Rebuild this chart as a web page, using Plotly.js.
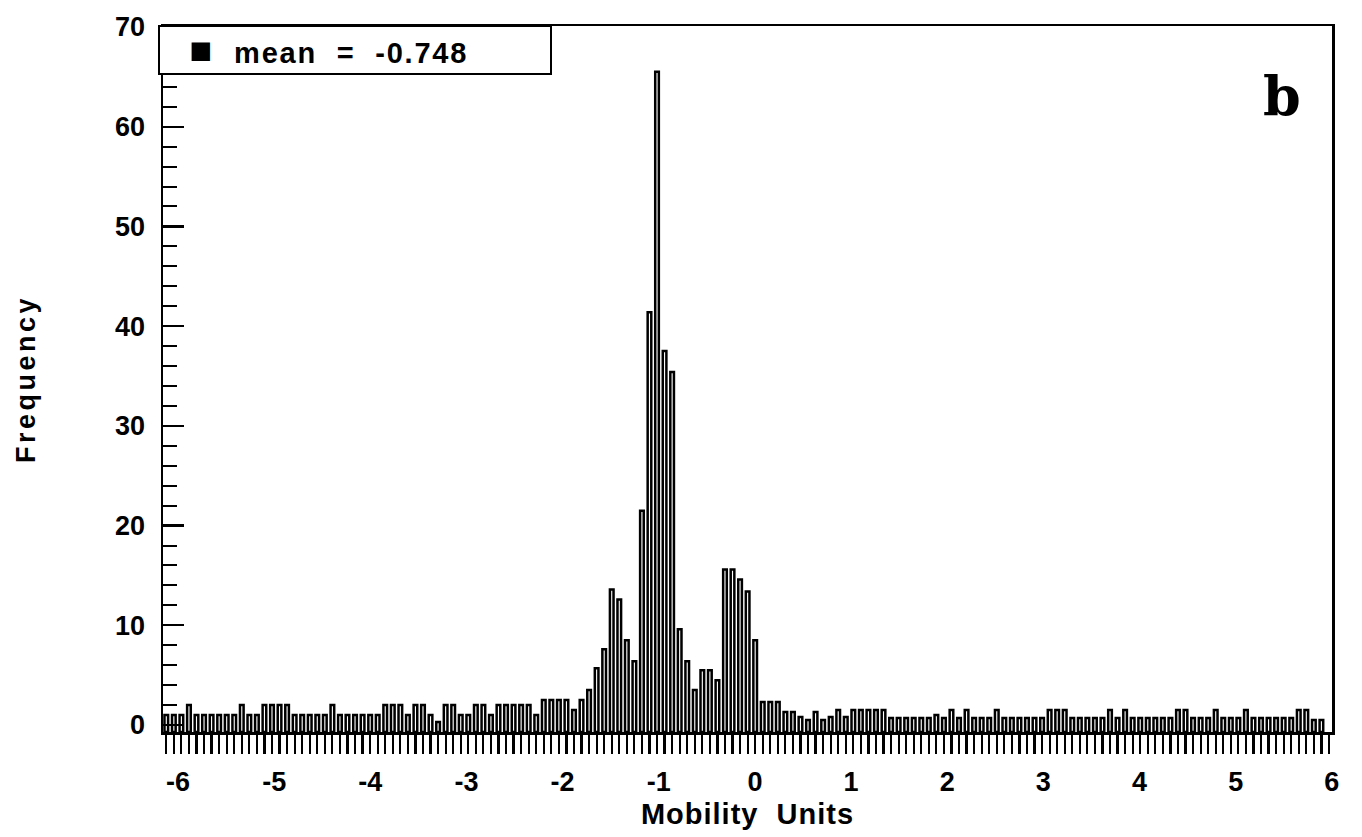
<!DOCTYPE html>
<html><head><meta charset="utf-8">
<script src="https://cdn.plot.ly/plotly-3.0.1.min.js"></script>
<style>
html,body{margin:0;padding:0;background:#fff;}
#chart{width:1362px;height:837px;}
#chart .ytitle{letter-spacing:3.5px;}
#chart .xtitle{letter-spacing:1px;}
#chart .annotation-text{letter-spacing:1.8px;}
</style>
</head><body><div id="chart"></div>
<script>
// Histogram bins (mobility units)
const binStart = -6.161;
const binWidth = 0.07852;
// Frequency per bin (left to right)
const frequency = [
  1, 1, 1, 2, 1, 1, 1, 1, 1, 1,
  2, 1, 1, 2, 2, 2, 2, 1, 1, 1,
  1, 1, 2, 1, 1, 1, 1, 1, 1, 2,
  2, 2, 1, 2, 2, 1, 0.3, 2, 2, 1,
  1, 2, 2, 1, 2, 2, 2, 2, 2, 1,
  2.5, 2.5, 2.5, 2.5, 1.5, 2.5, 3.5, 5.7, 7.6, 13.6,
  12.6, 8.5, 6.4, 21.5, 41.4, 65.5, 37.5, 35.4, 9.6, 6.4,
  3.5, 5.5, 5.5, 4.5, 15.6, 15.6, 14.6, 13.4, 8.5, 2.3,
  2.3, 2.3, 1.3, 1.3, 0.8, 0.5, 1.3, 0.5, 0.8, 1.5,
  0.8, 1.5, 1.5, 1.5, 1.5, 1.5, 0.7, 0.7, 0.7, 0.7,
  0.7, 0.7, 1, 0.7, 1.5, 0.7, 1.5, 0.7, 0.7, 0.7,
  1.5, 0.7, 0.7, 0.7, 0.7, 0.7, 0.7, 1.5, 1.5, 1.5,
  0.7, 0.7, 0.7, 0.7, 0.7, 1.5, 0.7, 1.5, 0.7, 0.7,
  0.7, 0.7, 0.7, 0.7, 1.5, 1.5, 0.7, 0.7, 0.7, 1.5,
  0.7, 0.7, 0.7, 1.5, 0.7, 0.7, 0.7, 0.7, 0.7, 0.7,
  1.5, 1.5, 0.5, 0.5
];
const xTickValues = [-6, -5, -4, -3, -2, -1, 0, 1, 2, 3, 4, 5, 6];
const xTickLabels = ['-6', '-5', '-4', '-3', '-2', '-1', '0', '1', '2', '3', '4', '5', '6'];
const yTickValues = [0, 10, 20, 30, 40, 50, 60, 70];
const xTitle = 'Mobility\u00a0\u00a0Units';
const yTitle = 'Frequency';
const meanLabel = 'mean\u00a0\u00a0=\u00a0\u00a0-0.748';
const panelLabel = 'b';

const Y_FLOOR = -0.7;
const binCenters = frequency.map((_, i) => binStart + (i + 0.5) * binWidth);

const boldFont = {family: '"Liberation Sans", Arial, sans-serif', size: 27, color: '#000', weight: 'bold'};

const traces = [
  {
    type: 'bar',
    x: binCenters,
    y: frequency.map(v => v - Y_FLOOR),
    base: Y_FLOOR,
    width: binWidth * 0.48,
    marker: {color: '#fff', line: {color: '#000', width: 2.5}},
    hoverinfo: 'skip',
    showlegend: false
  },
  {
    type: 'scatter', mode: 'markers', x: [null], y: [null],
    xaxis: 'x2', yaxis: 'y', showlegend: false, hoverinfo: 'skip'
  }
];

const layout = {
  width: 1362, height: 837,
  margin: {l: 163, r: 30, t: 26, b: 105},
  paper_bgcolor: '#fff', plot_bgcolor: '#fff',
  showlegend: false,
  bargap: 0,
  xaxis: {
    range: [-6.156, 6.002],
    tickmode: 'array', tickvals: xTickValues, ticktext: xTickLabels,
    ticks: 'outside', ticklen: 24, tickcolor: 'rgba(0,0,0,0)',
    tickfont: boldFont,
    showline: true, mirror: true, linecolor: '#000', linewidth: 2.5,
    showgrid: false, zeroline: false,
    title: {text: xTitle, font: {family: '"Liberation Sans", Arial, sans-serif', size: 29, color: '#000', weight: 'bold'}, standoff: 8}
  },
  xaxis2: {
    overlaying: 'x', anchor: 'y', side: 'bottom',
    range: [-6.156, 6.002],
    tickmode: 'linear', tick0: binStart + binWidth / 2, dtick: binWidth,
    ticks: 'outside', ticklen: 21, tickwidth: 2.2, tickcolor: '#000',
    showticklabels: false, showline: false, showgrid: false, zeroline: false
  },
  yaxis: {
    range: [Y_FLOOR, 70.1],
    tickmode: 'linear', tick0: 0, dtick: 10,
    ticks: 'inside', ticklen: 21, tickwidth: 2.2, tickcolor: '#000',
    minor: {dtick: 2, tick0: 0, ticks: 'inside', ticklen: 14, tickwidth: 2, tickcolor: '#000', showgrid: false},
    ticklabelstandoff: 10,
    tickfont: boldFont,
    showline: true, mirror: true, linecolor: '#000', linewidth: 2.5,
    showgrid: false, zeroline: false,
    title: {text: yTitle, font: {family: '"Liberation Sans", Arial, sans-serif', size: 27, color: '#000', weight: 'bold'}, standoff: 72}
  },
  annotations: [
    {
      xref: 'paper', yref: 'paper', x: -0.0043, y: 1.0014,
      xanchor: 'left', yanchor: 'top', align: 'left',
      width: 390, height: 46, valign: 'middle',
      text: '\u00a0\u00a0\u00a0<span style="font-size:38px">\u25A0</span>\u00a0\u00a0' + meanLabel,
      showarrow: false,
      font: {family: '"Liberation Sans", Arial, sans-serif', size: 29, color: '#000', weight: 'bold'},
      bgcolor: '#fff', bordercolor: '#000', borderwidth: 2, borderpad: 0
    },
    {
      xref: 'paper', yref: 'paper', x: 0.9577, y: 0.9008,
      xanchor: 'center', yanchor: 'middle',
      text: panelLabel, showarrow: false,
      font: {family: '"DejaVu Serif", "Liberation Serif", serif', size: 54, color: '#000', weight: 'bold'}
    }
  ]
};

Plotly.newPlot('chart', traces, layout, {staticPlot: true, displayModeBar: false});
</script>
</body></html>
